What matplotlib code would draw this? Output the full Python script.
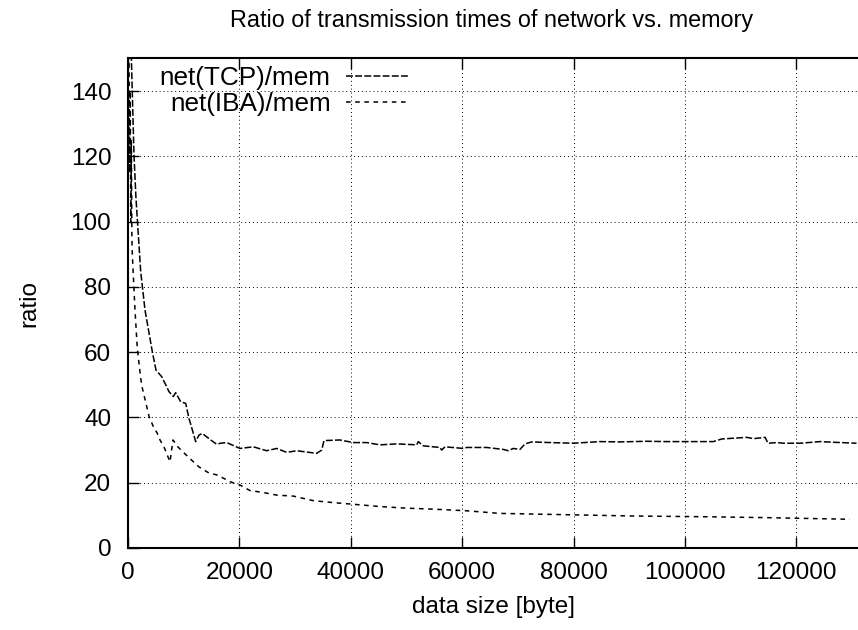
import matplotlib
matplotlib.use("Agg")
import matplotlib.pyplot as plt

plt.rcParams["font.family"] = ["Liberation Sans", "DejaVu Sans"]

# net(TCP)/mem
tcp_x = [100, 300, 590, 1077, 1436, 2280, 3052, 4370, 5027, 6045,
         6770, 7360, 8130, 8560, 9460, 10360, 10950, 11550, 12150, 12750,
         13340, 14840, 15920, 16640, 17716, 20110, 22500, 24900, 26700, 28500,
         30300, 33880, 34780, 35190, 38060, 40450, 42860, 45250, 48250, 51840,
         52120, 53020, 56020, 56320, 56920, 60210, 60800, 64380, 67390, 68280,
         69180, 70380, 71280, 72480, 75770, 79960, 84750, 88340, 93130, 96720,
         101500, 105100, 106600, 111100, 112300, 114400, 114900, 116500, 117700, 120700,
         124300, 126600, 130800]
tcp_y = [400, 250, 151, 120.4, 107, 84.7, 72.9, 60.1, 54.5, 52.5,
         50.0, 47.9, 46.4, 47.6, 44.8, 44.3, 39.7, 36.2, 32.6, 34.6,
         35.1, 33.1, 31.8, 32.1, 32.3, 30.5, 31.0, 29.8, 30.5, 29.3,
         29.8, 29.0, 30.0, 32.9, 33.1, 32.3, 32.3, 31.6, 31.9, 31.6,
         32.6, 31.3, 30.8, 30.0, 31.0, 30.5, 30.8, 30.8, 30.2, 29.8,
         30.5, 30.2, 31.9, 32.5, 32.3, 32.1, 32.6, 32.5, 32.7, 32.6,
         32.6, 32.6, 33.4, 33.9, 33.5, 33.9, 32.1, 32.3, 32.1, 32.1,
         32.6, 32.4, 32.1]

# net(IBA)/mem
iba_x = [100, 180, 300, 400, 500, 600, 700, 780, 1257, 1670,
         2280, 2570, 3800, 4550, 5270, 5745, 6550, 7540, 8080, 8950,
         10740, 12700, 14500, 15920, 17240, 18310, 20110, 21900, 24300, 26700,
         29690, 33280, 36870, 40460, 45250, 50040, 54820, 60810, 66790, 72780,
         81760, 90740, 102700, 114700, 129600]
iba_y = [300, 151, 115, 140, 100, 125, 95, 89.8, 72.9, 61.2,
         52.0, 49.0, 40.2, 37.2, 35.1, 33.1, 30.6, 26.4, 33.1, 31.0,
         28.0, 24.9, 23.0, 22.4, 21.3, 20.3, 19.3, 17.6, 17.0, 16.2,
         15.9, 14.5, 13.9, 13.4, 12.7, 12.2, 11.9, 11.4, 10.6, 10.4,
         10.1, 9.8, 9.6, 9.3, 8.8]

x_ticks = [0, 20000, 40000, 60000, 80000, 100000, 120000]
y_ticks = [0, 20, 40, 60, 80, 100, 120, 140]

fs = 17.5

fig = plt.figure(figsize=(8.58, 6.30), dpi=100)
ax = fig.add_axes([128 / 858, 1 - 548 / 630, 1 - 128 / 858, (548 - 58.4) / 630])

ax.plot(tcp_x, tcp_y, color="black", lw=1.1, dashes=(4.5, 1.5), label="net(TCP)/mem")
ax.plot(iba_x, iba_y, color="black", lw=1.1, dashes=(3, 3), label="net(IBA)/mem")

ax.set_xlim(0, 131072)
ax.set_ylim(0, 150)
ax.set_xticks(x_ticks)
ax.set_yticks(y_ticks)
ax.grid(True, color="black", linestyle=(0, (1, 3)), linewidth=0.7)

ax.tick_params(direction="in", length=8, width=1, top=True, right=False,
               labelsize=fs)
ax.tick_params(axis="x", pad=10)
ax.tick_params(axis="y", pad=12)
for side in ["left", "bottom", "top"]:
    ax.spines[side].set_linewidth(1.5)
ax.spines["right"].set_visible(False)

ax.set_xlabel("data size [byte]", fontsize=fs, labelpad=9)
ax.set_ylabel("ratio", fontsize=fs, labelpad=22)
fig.text(492 / 858, 1 - 21 / 630, "Ratio of transmission times of network vs. memory",
         ha="center", va="center", fontsize=16.8)

ax.legend(loc="upper right", bbox_to_anchor=(409 / 858, 1 - 66 / 630),
          bbox_transform=fig.transFigure, frameon=False, markerfirst=False,
          fontsize=18.8, handlelength=2.4, handletextpad=0.6, labelspacing=0.08,
          borderpad=0, borderaxespad=0)

plt.savefig("out.png", dpi=100)
plt.close()
